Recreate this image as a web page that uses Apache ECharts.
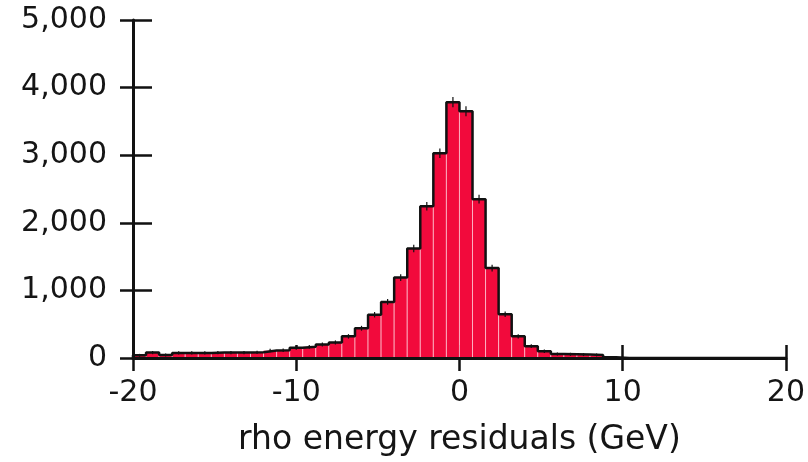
<!DOCTYPE html>
<html>
<head>
<meta charset="utf-8">
<script src="https://cdn.jsdelivr.net/npm/echarts@6/dist/echarts.min.js"></script>
<style>
html,body{margin:0;padding:0;background:#fff;}
#chart{width:808px;height:462px;}
</style>
</head>
<body>
<div id="chart"></div>
<script>
// Histogram bins: 50 bins of width 0.8 GeV from -20 to 20
const binStart = -20;
const binWidth = 0.8;
const counts = [
  40, 80, 45, 75, 75, 75, 80, 80, 80, 85,
  110, 115, 150, 165, 200, 230, 320, 440, 640, 830,
  1190, 1620, 2245, 3030, 3785, 3650, 2350, 1330, 648, 320,
  175, 100, 60, 55, 50, 45, 10, 0, 0, 0,
  0, 0, 0, 0, 0, 0, 0, 0, 0, 0
];
const xTicks = [-20, -10, 0, 10, 20];
const yTicks = [0, 1000, 2000, 3000, 4000, 5000];
const xTitle = 'rho energy residuals (GeV)';

const barData = counts.map((v, i) => {
  const a = +(binStart + i * binWidth).toFixed(2);
  const b = +(binStart + (i + 1) * binWidth).toFixed(2);
  return [a, b, v];
});
const outline = [[binStart, 0]];
barData.forEach(d => outline.push([d[0], d[2]]));
outline.push([barData[barData.length - 1][1], 0]);

const FONT = 'DejaVu Sans';
const TXT = '#151515';
const chart = echarts.init(document.getElementById('chart'), null, {renderer: 'canvas'});
const axisBase = {
  type: 'value', min: xTicks[0], max: xTicks[xTicks.length - 1], interval: 10,
  splitLine: {show: false}
};
chart.setOption({
  animation: false,
  backgroundColor: '#fff',
  grid: {left: 133, right: 21, top: 20, bottom: 102, containLabel: false},
  xAxis: [
    Object.assign({}, axisBase, {
      position: 'bottom', z: 3,
      axisLine: {show: true, onZero: false, lineStyle: {color: '#111', width: 3}},
      axisTick: {show: true, inside: false, length: 13, lineStyle: {color: '#111', width: 2.5}},
      axisLabel: {show: true, margin: 20, color: TXT, fontFamily: FONT, fontSize: 30},
      name: xTitle, nameLocation: 'middle', nameGap: 66,
      nameTextStyle: {color: TXT, fontFamily: FONT, fontSize: 33}
    }),
    Object.assign({}, axisBase, {
      position: 'bottom', z: 0,
      axisLine: {show: false, onZero: false},
      axisTick: {show: true, inside: true, length: 13, lineStyle: {color: '#111', width: 2.5}},
      axisLabel: {show: false}
    })
  ],
  yAxis: [
    {
      type: 'value', min: yTicks[0], max: yTicks[yTicks.length - 1], interval: 1000,
      position: 'left', z: 3,
      splitLine: {show: false},
      axisLine: {show: true, onZero: false, lineStyle: {color: '#111', width: 3}},
      axisTick: {show: true, inside: false, length: 13, lineStyle: {color: '#111', width: 2.5}},
      axisLabel: {show: true, margin: 26, color: TXT, fontFamily: FONT, fontSize: 30,
        formatter: v => v.toLocaleString('en-US')}
    },
    {
      type: 'value', min: yTicks[0], max: yTicks[yTicks.length - 1], interval: 1000,
      position: 'left', z: 0,
      splitLine: {show: false},
      axisLine: {show: false, onZero: false},
      axisTick: {show: true, inside: true, length: 19, lineStyle: {color: '#111', width: 2.5}},
      axisLabel: {show: false}
    }
  ],
  series: [
    {
      type: 'custom',
      xAxisIndex: 0, yAxisIndex: 0,
      z: 2,
      data: barData,
      renderItem: function (params, api) {
        const x0 = api.value(0), x1 = api.value(1), v = api.value(2);
        if (!v) return null;
        const p0 = api.coord([x0, v]);
        const p1 = api.coord([x1, 0]);
        const err = Math.sqrt(v);
        const pc1 = api.coord([(x0 + x1) / 2, v + err]);
        const pc2 = api.coord([(x0 + x1) / 2, v - err]);
        return {
          type: 'group',
          children: [
            {type: 'rect', shape: {x: p0[0], y: p0[1], width: p1[0] - p0[0], height: p1[1] - p0[1]},
             style: {fill: '#f20a3c', stroke: 'rgba(255,225,232,0.6)', lineWidth: 1}},
            {type: 'line', shape: {x1: pc1[0], y1: pc1[1] - 1, x2: pc2[0], y2: pc2[1] + 1},
             style: {stroke: '#111', lineWidth: 1.2}}
          ]
        };
      }
    },
    {
      type: 'line',
      xAxisIndex: 0, yAxisIndex: 0,
      z: 4,
      step: 'end',
      symbol: 'none',
      data: outline,
      lineStyle: {color: '#111', width: 2.5}
    }
  ]
});
</script>
</body>
</html>
